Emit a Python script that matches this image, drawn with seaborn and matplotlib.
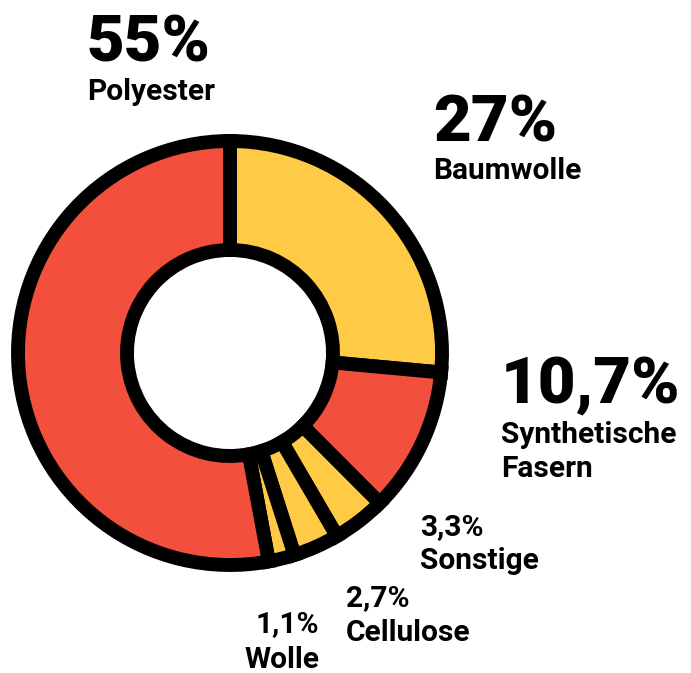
# Donut: Anteile der Fasern
import matplotlib
matplotlib.use("Agg")
import seaborn as sns
from matplotlib import pyplot as plt

sns.set_theme(style="white")
plt.rcParams['font.family'] = ['Roboto', 'DejaVu Sans']

# Daten (im Uhrzeigersinn ab 12 Uhr)
fasern = ["Baumwolle", "Synthetische\nFasern", "Sonstige", "Cellulose", "Wolle", "Polyester"]
anteile = [27, 10.7, 3.3, 2.7, 1.1, 55]
farben = ["#FFCB47", "#F2503C", "#FFCB47", "#FFCB47", "#FFCB47", "#F2503C"]
prozent = [f"{v:g}%".replace(".", ",") for v in anteile]

# jedes Segment bekommt zusätzlich Platz für die schwarze Trennlinie
luecke = 1.0
segmente = [v + luecke for v in anteile]

W, H = 691, 673
fig = plt.figure(figsize=(W / 100, H / 100), dpi=100)
ax = fig.add_axes([0, 0, 1, 1])

ax.pie(segmente, colors=farben, startangle=90, counterclock=False,
       center=(230, H - 353), radius=212,
       wedgeprops=dict(width=109, edgecolor="black", linewidth=10))
ax.set_xlim(0, W)
ax.set_ylim(0, H)
ax.set_aspect("equal")
ax.axis("off")

# Beschriftungen: (x, Grundlinie Prozent, Grundlinie Name, Ausrichtung, groß?)
pos = [
    (433, 142, 179, "left", True),
    (501, 403, 443, "left", True),
    (420, 535, 569, "left", False),
    (346, 606, 641, "left", False),
    (319, 632, 668, "right", False),
    (87, 62, 100, "left", True),
]

for name, pz, (x, yp, yn, ha, gross) in zip(fasern, prozent, pos):
    ax.text(x, H - yp, pz, ha=ha, va="baseline", fontsize=47 if gross else 21.5,
            fontweight="black" if gross else "bold", color="black")
    # mehrzeilige Namen: erste Zeile auf yn
    for i, z in enumerate(name.split("\n")):
        ax.text(x, H - yn - i * 34, z, ha=ha, va="baseline", fontsize=21.5,
                fontweight="bold", color="black")

fig.savefig("out.png", dpi=100)
